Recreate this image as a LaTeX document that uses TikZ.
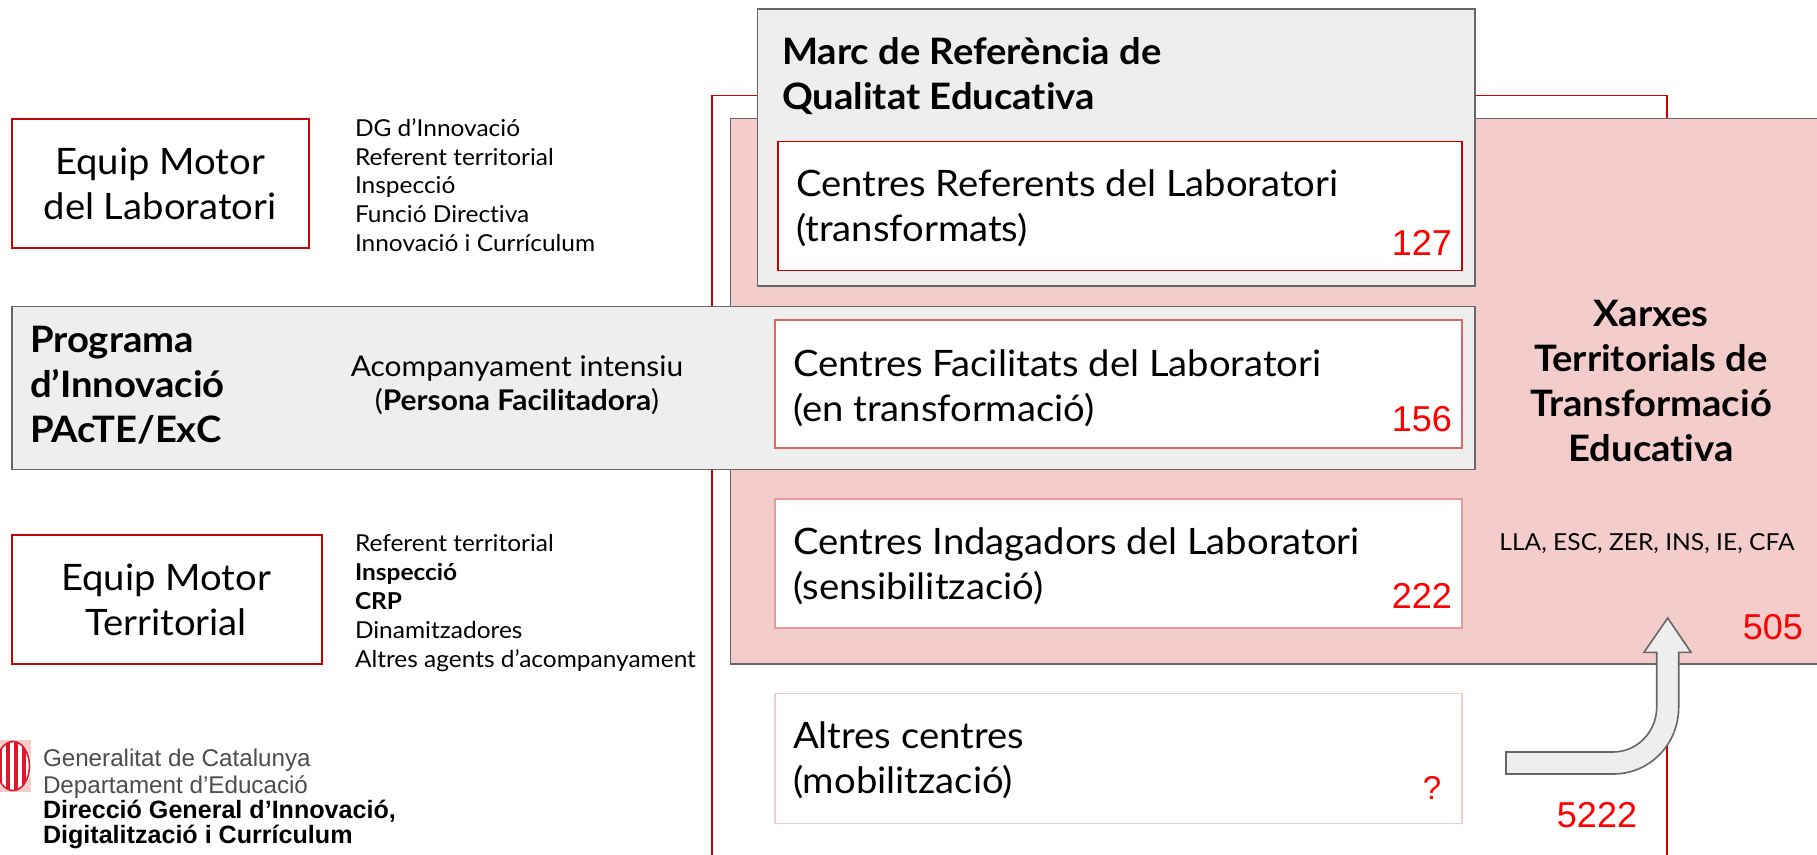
\documentclass[tikz,border=0pt]{standalone}
\usepackage{fontspec}
\setmainfont[FakeStretch=1.05,Ligatures=NoCommon]{Lato}
\newfontfamily\arialf{Liberation Sans}
\definecolor{pinkfill}{HTML}{F4CCCC}
\definecolor{grayfill}{HTML}{EEEEEE}
\definecolor{grayline}{HTML}{666666}
\definecolor{redA}{HTML}{CC0000}
\definecolor{redB}{HTML}{E06666}
\definecolor{redC}{HTML}{EA9999}
\definecolor{redD}{HTML}{F4CCCC}
\definecolor{numred}{HTML}{FF0000}
\definecolor{crestred}{HTML}{E2162B}
\tikzset{
  every node/.style={outer sep=0pt},
  panel/.style={draw=grayline,line width=1.6pt,fill=grayfill},
  redbox/.style={draw=redA,line width=1.6pt,fill=white},
  bigtxt/.style={inner sep=0pt,align=left,anchor=west,font=\fontsize{36.4}{45}\selectfont},
  midtxt/.style={inner sep=0pt,align=center,font=\fontsize{36.4}{44.5}\selectfont},
  boldtxt/.style={inner sep=0pt,font=\fontsize{36.4}{45}\selectfont\bfseries},
  smalltxt/.style={inner sep=0pt,align=left,anchor=west,font=\fontsize{23.3}{28.8}\selectfont},
  num/.style={inner sep=0pt,text=numred,font=\arialf\fontsize{36}{36}\selectfont},
  logolight/.style={inner sep=0pt,anchor=west,align=left,text=black!70,font=\arialf\fontsize{24.2}{26.5}\selectfont},
  logobold/.style={inner sep=0pt,anchor=west,align=left,font=\arialf\bfseries\fontsize{25.1}{25.8}\selectfont}
}
\begin{document}
\begin{tikzpicture}[x=1pt,y=-1pt]
\useasboundingbox (0,0) rectangle (1817,854);
\begin{scope}
\clip (0,0) rectangle (1817,854);
% outer red frame and pink field
\draw[draw=redA,line width=1.6pt] (712,900) -- (712,95.5) -- (1667,95.5) -- (1667,900);
\node[panel,fill=pinkfill,minimum width=1200pt,minimum height=545.5pt,anchor=north west,inner sep=0pt] (field) at (730.5,118.5) {};
\end{scope}
% top panel
\node[panel,minimum width=717.5pt,minimum height=277pt,anchor=north west,inner sep=0pt] (marc) at (757.5,9) {};
\node[panel,minimum width=1463pt,minimum height=163pt,anchor=north west,inner sep=0pt] (band) at (12,306.5) {};
% centre boxes
\node[redbox,minimum width=684pt,minimum height=129pt,anchor=north west,inner sep=0pt] (ref) at (778,141.5) {};
\node[redbox,draw=redB,minimum width=687pt,minimum height=128pt,anchor=north west,inner sep=0pt] (fac) at (775,320) {};
\node[redbox,draw=redC,minimum width=687pt,minimum height=129pt,anchor=north west,inner sep=0pt] (ind) at (775,499) {};
\node[redbox,draw=redD,minimum width=687pt,minimum height=130pt,anchor=north west,inner sep=0pt] (alt) at (775,693.5) {};
% left boxes
\node[redbox,minimum width=297pt,minimum height=129pt,anchor=north west,inner sep=0pt] (emlab) at (12,119) {};
\node[redbox,minimum width=310pt,minimum height=129pt,anchor=north west,inner sep=0pt] (emter) at (12,535) {};
% texts
\node[midtxt] (emlabt) at (160,184) {Equip Motor\\del Laboratori};
\node[midtxt] (emtert) at (166,600) {Equip Motor\\Territorial};
\node[smalltxt] (l1) at (355,185) {DG d’Innovació\\Referent territorial\\Inspecció\\Funció Directiva\\Innovació i Currículum};
\node[smalltxt] (l2) at (355,603) {Referent territorial\\\textbf{Inspecció}\\\textbf{CRP}\\Dinamitzadores\\Altres agents d’acompanyament};
\node[boldtxt,align=left,anchor=west] (prog) at (30,385) {Programa\\d’Innovació\\PAcTE/ExC};
\node[inner sep=0pt,align=center,font=\fontsize{28.5}{33.5}\selectfont] (aco) at (517,385) {Acompanyament intensiu\\(\textbf{Persona Facilitadora})};
\node[boldtxt,align=left,anchor=west] (marct) at (782,76.5) {Marc de Referència de\\Qualitat Educativa};
\node[bigtxt] (reft) at (796,208) {Centres Referents del Laboratori\\(transformats)};
\node[bigtxt] (fact) at (793,388) {Centres Facilitats del Laboratori\\(en transformació)};
\node[bigtxt] (indt) at (793,566) {Centres Indagadors del Laboratori\\(sensibilització)};
\node[bigtxt] (altt) at (793,760.5) {Altres centres\\(mobilització)};
\node[boldtxt,align=center] (xar) at (1651,381) {Xarxes\\Territorials de\\Transformació\\Educativa};
\node[inner sep=0pt,font=\fontsize{23.4}{26}\selectfont] (lla) at (1647,544) {LLA, ESC, ZER, INS, IE, CFA};
% numbers
\node[num,anchor=east] (n1) at (1452,243) {127};
\node[num,anchor=east] (n2) at (1452,419) {156};
\node[num,anchor=east] (n3) at (1452,596) {222};
\node[num,anchor=east] (n4) at (1803,627) {505};
\node[num] (n5) at (1597,815) {5222};
\node[num,font=\arialf\fontsize{33}{33}\selectfont] (n6) at (1432,788) {?};
% arrow
\draw[draw=grayline,line width=1.6pt,fill=grayfill,line join=miter]
  (1506,752) -- (1613,752) .. controls (1637,752) and (1656.7,732) .. (1656.7,707)
  -- (1656.7,652.3) -- (1644,652.3) -- (1667.7,618) -- (1691,652.3) -- (1678.7,652.3) -- (1678.7,707)
  .. controls (1678.7,744) and (1650,774) .. (1613,774) -- (1506,774) -- cycle;
% logo crest
\begin{scope}
\clip (0,738) rectangle (32,794);
\fill[redD] (-8,740) rectangle (31,792);
\fill[white] (13,766) ellipse [x radius=19,y radius=24];
\draw[crestred,line width=1.6pt] (13,766) ellipse [x radius=16.5,y radius=24.5];
\clip (13,766) ellipse [x radius=16.5,y radius=24.5];
\fill[crestred] (-2,740) rectangle (2,792);
\fill[crestred] (6,740) rectangle (10,792);
\fill[crestred] (14,740) rectangle (18,792);
\fill[crestred] (22,740) rectangle (26,792);
\end{scope}
\node[logolight] (lg1) at (43,773.5) {Generalitat de Catalunya\\Departament d’Educació};
\node[logobold] (lg2) at (43,824.5) {Direcció General d’Innovació,\\Digitalització i Currículum};
\end{tikzpicture}
\end{document}
